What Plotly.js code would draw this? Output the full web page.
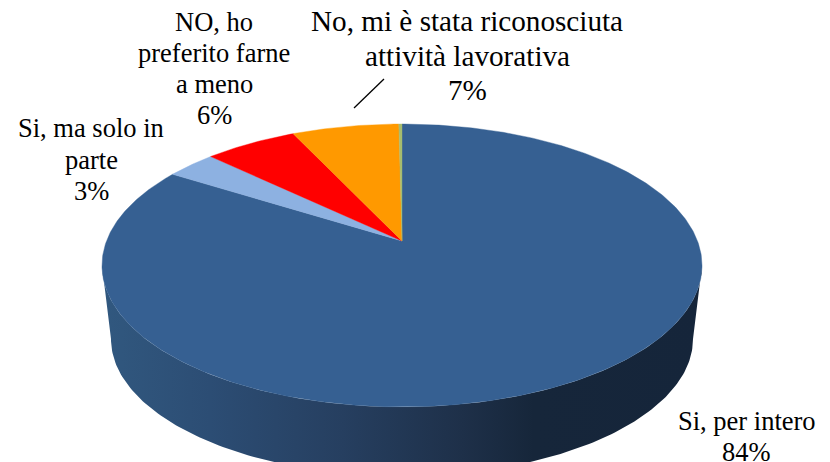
<!DOCTYPE html>
<html><head><meta charset="utf-8">
<script src="https://cdn.plot.ly/plotly-3.0.1.min.js"></script>
<style>html,body{margin:0;padding:0;background:#fff}</style></head>
<body><div id="chart" style="width:830px;height:462px"></div>
<script>
const categories = ["Si, per intero","Si, ma solo in parte","NO, ho preferito farne a meno","No, mi è stata riconosciuta attività lavorativa","Altro"];
const values = [83.9, 3.2, 5.9, 6.8, 0.2];
const sliceColors = ["#366092","#8DB1E1","#FF0000","#FF9900","#A6BC6E"];
const labelLines = [["Si, per intero"],["Si, ma solo in","parte"],["NO, ho","preferito farne","a meno"],["No, mi è stata riconosciuta","attività lavorativa"],null];
const labelX = [746.5, 91, 214, 467];
const labelY = [420.5, 128, 22, 21];
const labelStep = [31, 31.5, 31, 34.5];
const labelSize = [26.5, 26.5, 26.5, 29.2];
const wallStops = [[0,"#31587F"],[0.18,"#2C4D74"],[0.4,"#263F60"],[0.6,"#1E3049"],[0.72,"#16263A"],[1,"#15253A"]];

// Pie projection (pixel-scaled axes)
const cx=402, cy=241, A=295.5, B=137.2, P=0.173;
function proj(frac){
  const t=2*Math.PI*frac, u=Math.sin(t), v=Math.cos(t), w=1+P*v;
  return [cx+A*u/w, cy-B*v/w];
}
const total=values.reduce((a,b)=>a+b,0);
const traces=[];

// side wall: lower half of top rim joined to lower half of bottom rim
const wallTopCy=265.5, wallTopB=141.5, wallTopA=300, botCy=339, botA=291, botB=137;
const wx=[],wy=[];
for(let d=0;d<=180;d++){const r=d*Math.PI/180;wx.push(402-wallTopA*Math.cos(r));wy.push(wallTopCy+wallTopB*Math.sin(r));}
for(let d=180;d>=0;d--){const r=d*Math.PI/180;wx.push(402-botA*Math.cos(r));wy.push(botCy+botB*Math.sin(r));}
traces.push({type:"scatter",mode:"lines",x:wx,y:wy,fill:"toself",line:{width:0},hoverinfo:"skip",
  fillgradient:{type:"horizontal",colorscale:wallStops}});

// top face slices
let run=0;
values.forEach((val,i)=>{
  const xs=[cx],ys=[cy],n=Math.max(4,Math.ceil(val*6));
  for(let k=0;k<=n;k++){const p=proj((run+val*k/n)/total);xs.push(p[0]);ys.push(p[1]);}
  xs.push(cx);ys.push(cy);
  traces.push({type:"scatter",mode:"lines",x:xs,y:ys,fill:"toself",fillcolor:sliceColors[i],
    line:{width:0.4,color:sliceColors[i]},name:categories[i],hoverinfo:"name"});
  run+=val;
});

// leader line of the orange slice
traces.push({type:"scatter",mode:"lines",x:[354,384],y:[108,79],line:{color:"#000",width:1.3},hoverinfo:"skip"});

// one annotation per text line: the reference's leading is tighter than Plotly's <br>
const annotations=[];
labelLines.forEach((lines,i)=>{
  if(!lines) return;
  lines.concat([Math.round(values[i])+"%"]).forEach((t,j)=>annotations.push({
    x:labelX[i],y:labelY[i]+j*labelStep[i],xref:"x",yref:"y",showarrow:false,xanchor:"center",yanchor:"middle",
    text:t,font:{family:"'Liberation Serif',serif",size:labelSize[i],color:"#000"}
  }));
});

Plotly.newPlot("chart",traces,{
  width:830,height:462,margin:{l:0,r:0,t:0,b:0},showlegend:false,
  paper_bgcolor:"#fff",plot_bgcolor:"#fff",
  xaxis:{range:[0,830],visible:false,fixedrange:true},
  yaxis:{range:[462,0],visible:false,fixedrange:true},
  annotations
},{displayModeBar:false,staticPlot:true});
</script></body></html>
